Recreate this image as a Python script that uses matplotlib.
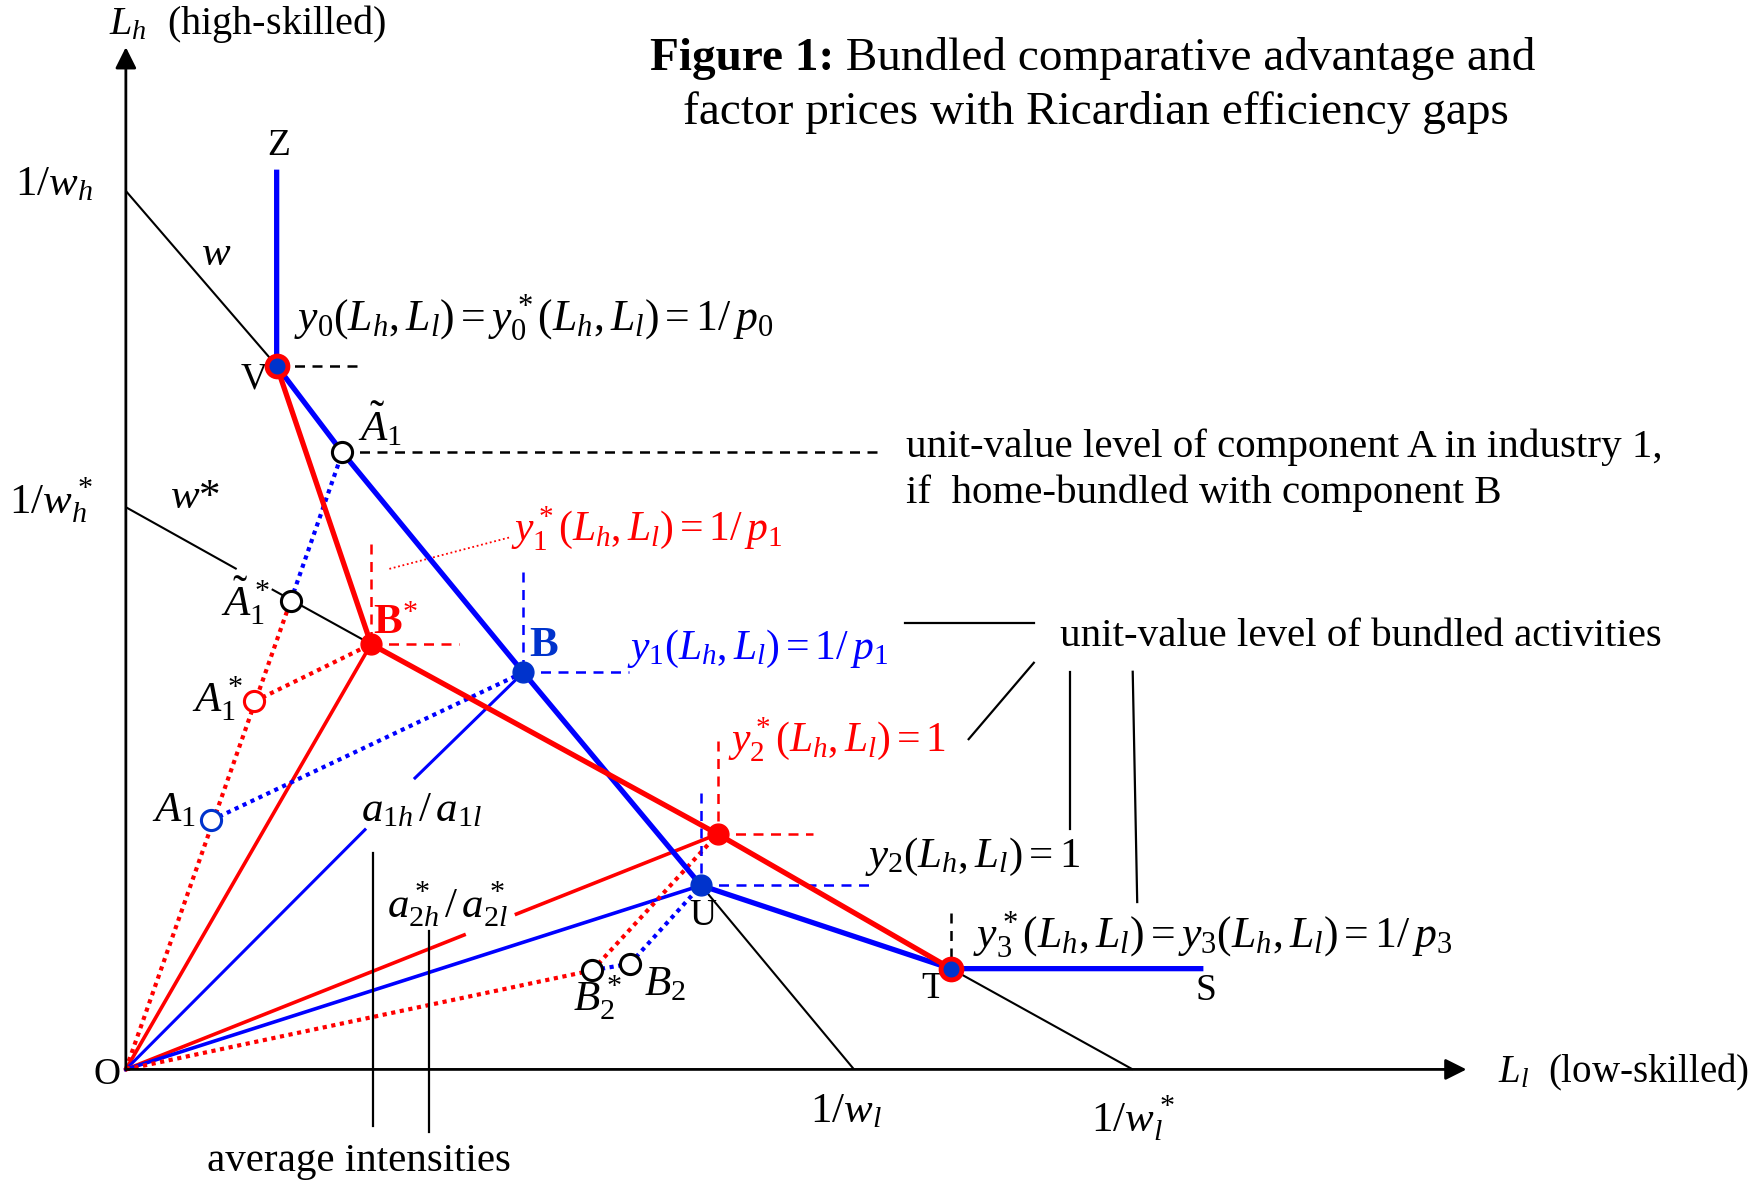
import matplotlib
matplotlib.use("Agg")
from matplotlib import pyplot as plt

# ---- diagram data: points in (L_l, L_h) space ----
O = (0.0, 0.0)
Z = (1.342, 8.01)
V = (1.342, 6.263)
A1_tilde = (1.927, 5.492)
B = (3.537, 3.534)
U = (5.118, 1.638)
T = (7.343, 0.897)
S = (9.589, 0.897)
B_star = (2.182, 3.786)
C_star = (5.267, 2.095)          # corner of y2* isoquant
A1_tilde_star = (1.467, 4.172)
A1_star = (1.143, 3.276)
A1 = (0.758, 2.217)
B2_star = (4.151, 0.882)
B2 = (4.486, 0.941)

# isocost intercepts
inv_wh, inv_wl = 7.82, 6.48
inv_wh_star, inv_wl_star = 5.005, 8.96
axis_ends = (11.93, 9.10)

RED = '#ff0000'
BLUE = '#0000ff'
DBLUE = '#0033cc'

plt.rcParams['font.family'] = ['Liberation Serif', 'DejaVu Serif']
plt.rcParams['mathtext.fontset'] = 'custom'
plt.rcParams['mathtext.rm'] = 'Liberation Serif'
plt.rcParams['mathtext.it'] = 'Liberation Serif:italic'
plt.rcParams['mathtext.bf'] = 'Liberation Serif:bold'


def seg(ax, p, q, **kw):
    ax.plot([p[0], q[0]], [p[1], q[1]], **kw)


def main():
    fig = plt.figure(figsize=(17.62, 11.84), dpi=100)
    ax = fig.add_axes([0, 0, 1, 1])
    ax.set_xlim(-1.12, 14.56)
    ax.set_ylim(-1.02, 9.52)
    ax.axis('off')

    # axes with arrows
    arrow = dict(arrowstyle='-|>', lw=2.0, color='k', mutation_scale=32, shrinkA=0, shrinkB=0)
    ax.annotate('', xy=(axis_ends[0], 0), xytext=O, arrowprops=arrow)
    ax.annotate('', xy=(0, axis_ends[1]), xytext=O, arrowprops=arrow)

    # isocost lines w and w*
    thin = dict(color='k', lw=1.5, solid_capstyle='butt')
    seg(ax, (0, inv_wh), V, **thin)
    seg(ax, U, (inv_wl, 0), **thin)
    seg(ax, (0, inv_wh_star), (0.986, 4.454), **thin)
    seg(ax, (1.298, 4.275), B_star, **thin)
    seg(ax, T, (inv_wl_star, 0), **thin)

    # average intensity rays from origin
    seg(ax, O, B_star, color=RED, lw=2.6)
    seg(ax, O, (2.128, 2.134), color=BLUE, lw=2.2)
    seg(ax, (2.573, 2.594), B, color=BLUE, lw=2.2)
    seg(ax, O, (3.01, 1.197), color=RED, lw=2.6)
    seg(ax, (3.476, 1.383), C_star, color=RED, lw=2.6)
    seg(ax, O, U, color=BLUE, lw=2.6)

    # dotted component rays
    dot = dict(lw=3.0, linestyle=(0, (1, 1.1)))
    seg(ax, O, A1_tilde_star, color=RED, **dot)
    seg(ax, A1_tilde_star, A1_tilde, color=BLUE, **dot)
    seg(ax, A1_star, B_star, color=RED, **dot)
    seg(ax, A1, B, color=BLUE, **dot)
    seg(ax, O, B2_star, color=RED, **dot)
    seg(ax, B2_star, C_star, color=RED, **dot)
    seg(ax, B2_star, B2, color=BLUE, **dot)
    seg(ax, B2, U, color=BLUE, **dot)

    # dashed corner markers
    dash = dict(lw=1.8, linestyle=(0, (4, 3)))
    seg(ax, V, (2.10, V[1]), color='k', **dash)
    seg(ax, A1_tilde, (6.73, A1_tilde[1]), color='k', **dash)
    seg(ax, (B_star[0], 4.68), B_star, color=RED, **dash)
    seg(ax, B_star, (2.968, B_star[1]), color=RED, **dash)
    seg(ax, (B[0], 4.424), B, color=BLUE, **dash)
    seg(ax, B, (4.48, B[1]), color=BLUE, **dash)
    seg(ax, (C_star[0], 2.92), C_star, color=RED, **dash)
    seg(ax, C_star, (6.118, C_star[1]), color=RED, **dash)
    seg(ax, (U[0], 2.46), U, color=BLUE, **dash)
    seg(ax, U, (6.63, U[1]), color=BLUE, **dash)
    seg(ax, (T[0], 1.392), T, color='k', **dash)
    seg(ax, (2.345, 4.456), (3.43, 4.74), color=RED, lw=1.3, linestyle=(0, (1, 1.5)))

    # thick isoquants
    blue_path = [Z, V, A1_tilde, B, U, T, S]
    ax.plot([p[0] for p in blue_path], [p[1] for p in blue_path], color=BLUE, lw=3.8,
            solid_joinstyle='miter', solid_capstyle='butt')
    red_path = [V, B_star, C_star, T]
    ax.plot([p[0] for p in red_path], [p[1] for p in red_path], color=RED, lw=3.8,
            solid_joinstyle='round')

    # leader lines
    leader = dict(color='k', lw=1.6)
    seg(ax, (6.93, 3.97), (8.08, 3.97), **leader)
    seg(ax, (8.08, 3.62), (7.50, 2.94), **leader)
    seg(ax, (8.40, 3.54), (8.40, 2.14), **leader)
    seg(ax, (8.96, 3.54), (9.00, 1.49), **leader)
    seg(ax, (2.202, 1.93), (2.202, -0.50), **leader)
    seg(ax, (2.701, 1.235), (2.701, -0.56), **leader)

    # markers
    for p in (V, T):
        ax.plot(*p, 'o', ms=15, mfc=DBLUE, mec=RED, mew=3.5, zorder=5)
    for p in (B_star, C_star):
        ax.plot(*p, 'o', ms=15, mfc=RED, mec=RED, zorder=5)
    for p in (B, U):
        ax.plot(*p, 'o', ms=15, mfc=DBLUE, mec=DBLUE, zorder=5)
    for p, c in ((A1_tilde, 'k'), (A1_tilde_star, 'k'), (A1_star, RED), (A1, DBLUE),
                 (B2_star, 'k'), (B2, 'k')):
        ax.plot(*p, 'o', ms=14.5, mfc='white', mec=c, mew=2.2, zorder=5)

    # texts
    fs = 29.5    # plain text
    fm = 31      # formulas
    ax.text(-0.15, 9.22, r'$L_h$  (high-skilled)', fontsize=29, ha='left', va='baseline')
    ax.text(12.21, -0.03, r'$L_l$  (low-skilled)', fontsize=28, ha='left', va='center')
    t1 = ax.text(4.66, 8.90, 'Figure 1:', fontsize=34, weight='bold', ha='left', va='baseline')
    ax.annotate(' Bundled comparative advantage and', xy=(1, 0), xycoords=t1,
                fontsize=34, ha='left', va='bottom')
    ax.text(8.63, 8.42, 'factor prices with Ricardian efficiency gaps',
            fontsize=34, ha='center', va='baseline')

    ax.text(-0.64, 7.87, r'$1/w_h$', fontsize=fm, ha='center', va='center')
    ax.text(-0.67, 5.07, r'$1/w_h^*$', fontsize=fm, ha='center', va='center')
    ax.text(0.808, 7.25, r'$w$', fontsize=fm, ha='center', va='center')
    ax.text(0.615, 5.085, r'$w$*', fontsize=fm, ha='center', va='center')
    ax.text(1.36, 8.22, 'Z', fontsize=27, ha='center', va='center')
    ax.text(1.14, 6.14, 'V', fontsize=27, ha='center', va='center')
    ax.text(5.13, 1.37, 'U', fontsize=27, ha='center', va='center')
    ax.text(7.18, 0.72, 'T', fontsize=27, ha='center', va='center')
    ax.text(9.61, 0.70, 'S', fontsize=27, ha='center', va='center')
    ax.text(-0.17, -0.05, 'O', fontsize=27, ha='center', va='center')

    ax.text(1.50, 6.69, r'$y_0(L_h,L_l) = y_0^*(L_h,L_l) = 1/\,p_0$', fontsize=31.5,
            ha='left', va='center')
    ax.text(2.26, 5.74, r'$\tilde{A}_1$', fontsize=fm, ha='center', va='center')
    ax.text(6.94, 5.54, 'unit-value level of component A in industry 1,', fontsize=fs,
            ha='left', va='center')
    ax.text(6.94, 5.13, 'if  home-bundled with component B', fontsize=fs,
            ha='left', va='center')
    ax.text(3.43, 4.82, r'$y_1^*(L_h,L_l) = 1/\,p_1$', fontsize=30, color=RED,
            ha='left', va='center')
    ax.text(1.06, 4.17, r'$\tilde{A}_1^*$', fontsize=fm, ha='center', va='center')
    ax.text(2.40, 3.97, r'$\mathbf{B}^{*}$', fontsize=fm, color=RED, ha='center', va='center')
    ax.text(3.72, 3.77, r'$\mathbf{B}$', fontsize=fm, color=DBLUE, ha='center', va='center')
    ax.text(4.46, 3.74, r'$y_1(L_h,L_l) = 1/\,p_1$', fontsize=30, color=BLUE,
            ha='left', va='center')
    ax.text(8.31, 3.85, 'unit-value level of bundled activities', fontsize=fs,
            ha='left', va='center')
    ax.text(0.82, 3.30, r'$A_1^*$', fontsize=fm, ha='center', va='center')
    ax.text(5.36, 2.94, r'$y_2^*(L_h,L_l) = 1$', fontsize=30, color=RED,
            ha='left', va='center')
    ax.text(0.43, 2.30, r'$A_1$', fontsize=fm, ha='center', va='center')
    ax.text(2.63, 2.30, r'$a_{1h}\,/\,a_{1l}$', fontsize=fm, ha='center', va='center')
    ax.text(6.58, 1.89, r'$y_2(L_h,L_l) = 1$', fontsize=fm, ha='left', va='center')
    ax.text(2.86, 1.47, r'$a_{2h}^*\,/\,a_{2l}^*$', fontsize=fm, ha='center', va='center')
    ax.text(7.54, 1.19, r'$y_3^*(L_h,L_l) = y_3(L_h,L_l) = 1/\,p_3$', fontsize=31.5,
            ha='left', va='center')
    ax.text(4.80, 0.75, r'$B_2$', fontsize=fm, ha='center', va='center')
    ax.text(4.20, 0.64, r'$B_2^*$', fontsize=fm, ha='center', va='center')
    ax.text(6.41, -0.38, r'$1/w_l$', fontsize=fm, ha='center', va='center')
    ax.text(8.96, -0.43, r'$1/w_l^*$', fontsize=fm, ha='center', va='center')
    ax.text(2.07, -0.82, 'average intensities', fontsize=fs, ha='center', va='center')

    fig.savefig('out.png', dpi=100)


main()
